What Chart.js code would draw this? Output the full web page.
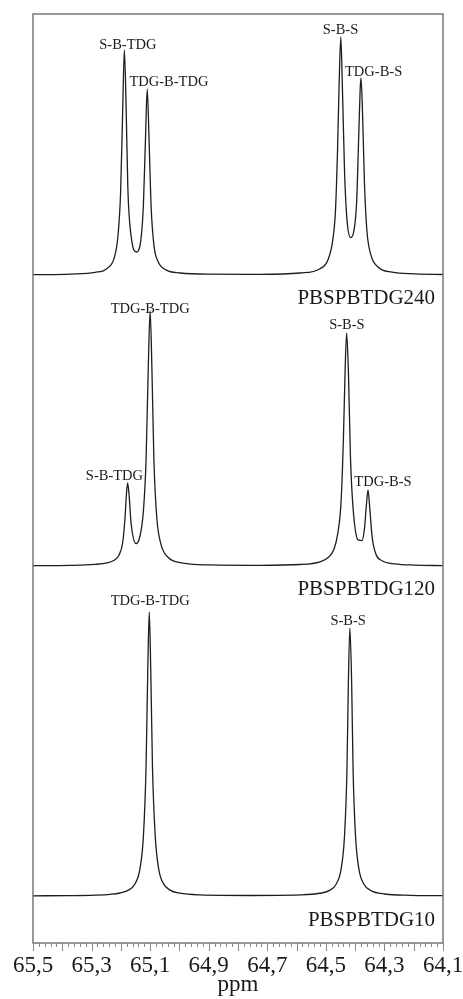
<!DOCTYPE html>
<html>
<head>
<meta charset="utf-8">
<script src="https://cdn.jsdelivr.net/npm/chart.js@4/dist/chart.umd.min.js"></script>
<style>
  html, body { margin: 0; padding: 0; background: #fff; }
  canvas { display: block; }
</style>
</head>
<body>
<canvas id="nmrChart" width="463" height="999"></canvas>
<script>
// x axis labels (ppm, comma decimals)
const tickValues = [65.5, 65.3, 65.1, 64.9, 64.7, 64.5, 64.3, 64.1];
const tickLabels = ['65,5', '65,3', '65,1', '64,9', '64,7', '64,5', '64,3', '64,1'];

// PBSPBTDG240 spectrum (ppm, intensity)
const ppm240 = [65.500, 65.374, 65.288, 65.247, 65.223, 65.210, 65.201, 65.194, 65.188, 65.182,
  65.176, 65.165, 65.146, 65.131, 65.123, 65.116, 65.110, 65.104, 65.097, 65.087,
  65.073, 65.046, 64.998, 64.896, 64.725, 64.588, 64.520, 64.493, 64.476, 64.467,
  64.460, 64.455, 64.449, 64.444, 64.436, 64.428, 64.415, 64.404, 64.395, 64.389,
  64.383, 64.380, 64.375, 64.368, 64.360, 64.346, 64.322, 64.274, 64.196, 64.100];
const int240 = [0.3, 0.9, 2.6, 6.6, 16.8, 38.8, 81.2, 161.5, 225, 167.5,
  85.8, 38.8, 23.0, 36.8, 70.2, 135.5, 186, 138.7, 70.2, 29.6,
  13.5, 5.1, 2.0, 0.8, 0.7, 2.0, 6.3, 15.1, 35.6, 65.4,
  126.3, 186.8, 238, 193.2, 101.8, 55.6, 37.3, 44.6, 72.2, 126.4,
  184.4, 197, 164.3, 90.6, 44.8, 19.8, 8.0, 2.8, 1.1, 0.5];

// PBSPBTDG120 spectrum
const ppm120 = [65.500, 65.374, 65.288, 65.247, 65.223, 65.206, 65.194, 65.186, 65.181, 65.177,
  65.172, 65.165, 65.148, 65.135, 65.123, 65.114, 65.106, 65.100, 65.094, 65.087,
  65.077, 65.063, 65.039, 64.998, 64.896, 64.725, 64.588, 64.520, 64.493, 64.472,
  64.459, 64.448, 64.440, 64.434, 64.429, 64.423, 64.416, 64.407, 64.390, 64.377,
  64.368, 64.362, 64.356, 64.350, 64.342, 64.329, 64.308, 64.264, 64.196, 64.100];
const int120 = [0.3, 0.6, 1.6, 3.1, 5.7, 11.1, 23.0, 47.2, 71.7, 83,
  71.4, 42.6, 22.4, 29.5, 55.0, 105.3, 203.2, 255, 197.8, 104.3,
  47.2, 21.7, 8.7, 3.4, 1.1, 0.7, 1.5, 4.2, 8.3, 17.0,
  33.2, 64.6, 127.9, 198.0, 233, 194.3, 108.9, 57.6, 26.1, 25.4,
  37.9, 59.4, 76, 57.5, 29.2, 11.8, 5.3, 2.1, 0.9, 0.4];

// PBSPBTDG10 spectrum
const ppm10 = [65.500, 65.374, 65.288, 65.237, 65.203, 65.176, 65.152, 65.135, 65.123, 65.114,
  65.108, 65.103, 65.098, 65.092, 65.083, 65.071, 65.056, 65.032, 64.998, 64.930,
  64.759, 64.588, 64.520, 64.489, 64.465, 64.448, 64.436, 64.428, 64.423, 64.418,
  64.412, 64.407, 64.399, 64.387, 64.370, 64.346, 64.298, 64.213, 64.100];
const int10 = [0.2, 0.4, 0.9, 1.7, 3.0, 5.6, 12.0, 26.8, 59.9, 128.5,
  227.2, 284, 227.2, 128.5, 61.6, 27.3, 13.1, 5.9, 2.8, 1.1,
  0.5, 1.1, 2.75, 5.4, 11.8, 26.8, 61.5, 125.4, 214.4, 268,
  214.4, 125.4, 61.5, 26.8, 11.8, 5.4, 2.0, 0.7, 0.3];

// vertical stacking of the three traces (baseline of each trace on the y axis)
const stackOffsets = { s240: 668, s120: 377, s10: 47 };

// text labels: [text, ppm, y, align, font size]
const labels = [
  ['S-B-TDG', 65.176, 894, 'center', 14.5],
  ['TDG-B-TDG', 65.036, 857, 'center', 14.5],
  ['S-B-S', 64.450, 909, 'center', 14.5],
  ['TDG-B-S', 64.337, 867, 'center', 14.5],
  ['PBSPBTDG240', 64.127, 639, 'right', 21],
  ['TDG-B-TDG', 65.100, 630.5, 'center', 14.5],
  ['S-B-S', 64.428, 614, 'center', 14.5],
  ['S-B-TDG', 65.222, 463, 'center', 14.5],
  ['TDG-B-S', 64.305, 457.5, 'center', 14.5],
  ['PBSPBTDG120', 64.127, 348, 'right', 21],
  ['TDG-B-TDG', 65.100, 338, 'center', 14.5],
  ['S-B-S', 64.424, 318, 'center', 14.5],
  ['PBSPBTDG10', 64.127, 17, 'right', 21]
];

const SERIF = '"Liberation Serif", "Times New Roman", serif';

function trace(xs, ys, off) {
  return xs.map((p, i) => ({ x: p, y: ys[i] + off }));
}

const frameAndText = {
  id: 'frameAndText',
  afterDraw(chart) {
    const { ctx, chartArea: a, scales: { x, y } } = chart;
    ctx.save();
    // frame
    ctx.strokeStyle = '#777';
    ctx.lineWidth = 1.5;
    ctx.strokeRect(a.left, a.top, a.right - a.left, a.bottom - a.top);
    // tick marks every 0.02 ppm, longer every 0.1
    ctx.lineWidth = 1;
    ctx.strokeStyle = '#888';
    for (let k = 0; k <= 70; k++) {
      const v = 64.1 + k * 0.02;
      const px = Math.round(x.getPixelForValue(v)) + 0.5;
      const len = k % 5 === 0 ? 8 : 4;
      ctx.beginPath();
      ctx.moveTo(px, a.bottom);
      ctx.lineTo(px, a.bottom + len);
      ctx.stroke();
    }
    // labels
    ctx.fillStyle = '#1a1a1a';
    ctx.textBaseline = 'alphabetic';
    labels.forEach(([t, p, v, align, size]) => {
      ctx.font = size + 'px ' + SERIF;
      ctx.textAlign = align;
      ctx.fillText(t, x.getPixelForValue(p), y.getPixelForValue(v));
    });
    ctx.restore();
  }
};

const lineStyle = {
  borderColor: '#1e1e1e',
  borderWidth: 1.3,
  pointRadius: 0,
  fill: false,
  cubicInterpolationMode: 'monotone'
};

new Chart(document.getElementById('nmrChart'), {
  type: 'line',
  data: {
    datasets: [
      { label: 'PBSPBTDG240', data: trace(ppm240, int240, stackOffsets.s240), ...lineStyle },
      { label: 'PBSPBTDG120', data: trace(ppm120, int120, stackOffsets.s120), ...lineStyle },
      { label: 'PBSPBTDG10', data: trace(ppm10, int10, stackOffsets.s10), ...lineStyle }
    ]
  },
  options: {
    responsive: false,
    animation: false,
    devicePixelRatio: 1,
    layout: { padding: { left: 33, right: 20, top: 14, bottom: 0 } },
    plugins: { legend: { display: false }, tooltip: { enabled: false } },
    scales: {
      x: {
        type: 'linear',
        reverse: true,
        min: 64.1,
        max: 65.5,
        afterBuildTicks: s => { s.ticks = tickValues.map(v => ({ value: v })); },
        afterFit: s => {
          s.height = 56;
          s.paddingLeft = 0;
          s.paddingRight = 0;
        },
        grid: { display: false, drawTicks: false },
        border: { display: false },
        ticks: {
          autoSkip: false,
          maxRotation: 0,
          padding: 11,
          color: '#1a1a1a',
          font: { family: SERIF, size: 23, lineHeight: 1 },
          callback: (v, i) => tickLabels[i]
        },
        title: {
          display: true,
          text: 'ppm',
          color: '#1a1a1a',
          font: { family: SERIF, size: 23, lineHeight: 1 },
          padding: { top: 0, bottom: 3 }
        }
      },
      y: { display: false, min: 0, max: 929 }
    }
  },
  plugins: [frameAndText]
});
</script>
</body>
</html>
